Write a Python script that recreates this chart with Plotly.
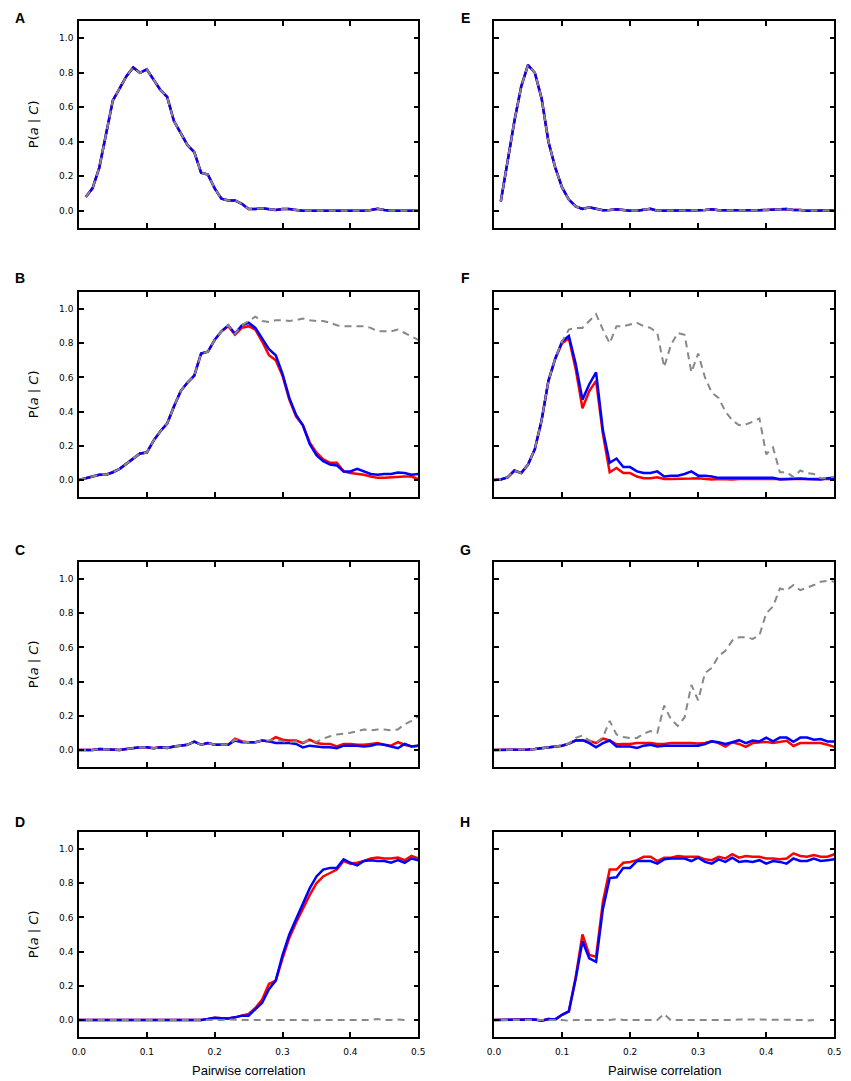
import plotly.graph_objects as go

# pairwise correlation grid shared by every panel
corr = [0.00, 0.01, 0.02, 0.03, 0.04, 0.05, 0.06, 0.07, 0.08, 0.09,
        0.10, 0.11, 0.12, 0.13, 0.14, 0.15, 0.16, 0.17, 0.18, 0.19,
        0.20, 0.21, 0.22, 0.23, 0.24, 0.25, 0.26, 0.27, 0.28, 0.29,
        0.30, 0.31, 0.32, 0.33, 0.34, 0.35, 0.36, 0.37, 0.38, 0.39,
        0.40, 0.41, 0.42, 0.43, 0.44, 0.45, 0.46, 0.47, 0.48, 0.49, 0.50]

x_ticks = [0.0, 0.1, 0.2, 0.3, 0.4, 0.5]
x_labels = ["0.0", "0.1", "0.2", "0.3", "0.4", "0.5"]
y_ticks = [0.0, 0.2, 0.4, 0.6, 0.8, 1.0]
y_labels = ["0.0", "0.2", "0.4", "0.6", "0.8", "1.0"]

# A: the three curves coincide
a_curve = [None, 0.08, 0.13, 0.25, 0.45, 0.64, 0.71, 0.78, 0.83, 0.80,
           0.82, 0.76, 0.70, 0.66, 0.52, 0.45, 0.38, 0.34, 0.22, 0.21,
           0.13, 0.07, 0.06, 0.06, 0.04, 0.01, 0.01, 0.015, 0.01, 0.005,
           0.01, 0.01, 0.005, 0.0, 0.0, 0.0, 0.0, 0.0, 0.0, 0.0,
           0.0, 0.0, 0.0, 0.005, 0.012, 0.005, 0.0, 0.0, 0.0, 0.0, 0.0]

b_red = [0.00, 0.01, 0.02, 0.03, 0.03, 0.045, 0.065, 0.095, 0.13, 0.155,
         0.16, 0.23, 0.285, 0.33, 0.43, 0.52, 0.57, 0.61, 0.74, 0.75,
         0.82, 0.87, 0.90, 0.85, 0.89, 0.90, 0.88, 0.81, 0.73, 0.70,
         0.61, 0.47, 0.37, 0.32, 0.22, 0.16, 0.12, 0.10, 0.10, 0.05,
         0.04, 0.035, 0.03, 0.02, 0.012, 0.012, 0.015, 0.02, 0.02, 0.02, 0.005]
b_blue = [0.00, 0.01, 0.02, 0.03, 0.03, 0.045, 0.065, 0.095, 0.13, 0.155,
          0.16, 0.23, 0.285, 0.33, 0.43, 0.52, 0.57, 0.61, 0.74, 0.75,
          0.82, 0.87, 0.905, 0.855, 0.905, 0.92, 0.89, 0.83, 0.765, 0.73,
          0.62, 0.48, 0.38, 0.32, 0.21, 0.145, 0.11, 0.09, 0.085, 0.05,
          0.05, 0.065, 0.05, 0.035, 0.03, 0.035, 0.035, 0.043, 0.04, 0.03, 0.035]
b_gray = [0.00, 0.01, 0.02, 0.03, 0.03, 0.045, 0.065, 0.095, 0.13, 0.155,
          0.16, 0.23, 0.285, 0.33, 0.43, 0.52, 0.57, 0.61, 0.74, 0.75,
          0.82, 0.87, 0.905, 0.855, 0.905, 0.93, 0.955, 0.93, 0.925, 0.935,
          0.935, 0.93, 0.935, 0.945, 0.935, 0.93, 0.93, 0.92, 0.905, 0.90,
          0.90, 0.90, 0.90, 0.89, 0.87, 0.87, 0.87, 0.88, 0.86, 0.84, 0.82]

c_red = [0.0, 0.0, 0.0, 0.005, 0.002, 0.0, 0.0, 0.005, 0.012, 0.016,
         0.016, 0.01, 0.015, 0.012, 0.02, 0.025, 0.03, 0.048, 0.03, 0.04,
         0.03, 0.03, 0.03, 0.065, 0.05, 0.045, 0.045, 0.055, 0.05, 0.075,
         0.06, 0.055, 0.055, 0.04, 0.06, 0.04, 0.035, 0.035, 0.02, 0.035,
         0.035, 0.03, 0.03, 0.035, 0.04, 0.03, 0.025, 0.045, 0.03, 0.02, 0.025]
c_blue = [0.0, 0.0, 0.0, 0.005, 0.002, 0.0, 0.0, 0.005, 0.012, 0.016,
          0.016, 0.01, 0.015, 0.012, 0.02, 0.025, 0.03, 0.048, 0.03, 0.04,
          0.03, 0.03, 0.03, 0.055, 0.045, 0.045, 0.045, 0.055, 0.05, 0.04,
          0.04, 0.04, 0.035, 0.015, 0.025, 0.02, 0.015, 0.015, 0.01, 0.025,
          0.025, 0.025, 0.02, 0.025, 0.035, 0.03, 0.02, 0.01, 0.035, 0.02, 0.025]
c_gray = [0.0, 0.0, 0.0, 0.005, 0.002, 0.0, 0.0, 0.005, 0.012, 0.016,
          0.016, 0.01, 0.015, 0.012, 0.02, 0.025, 0.03, 0.048, 0.03, 0.04,
          0.03, 0.03, 0.03, 0.06, 0.05, 0.045, 0.045, 0.055, 0.055, 0.06,
          0.05, 0.045, 0.05, 0.045, 0.055, 0.047, 0.066, 0.08, 0.09, 0.095,
          0.10, 0.11, 0.12, 0.115, 0.12, 0.12, 0.115, 0.12, 0.15, 0.17, 0.195]

d_red = [0.0, 0.0, 0.0, 0.0, 0.0, 0.0, 0.0, 0.0, 0.0, 0.0,
         0.0, 0.0, 0.002, 0.003, 0.002, 0.0, 0.003, 0.002, 0.0, 0.005,
         0.012, 0.01, 0.008, 0.015, 0.025, 0.035, 0.07, 0.12, 0.21, 0.23,
         0.36, 0.48, 0.57, 0.65, 0.73, 0.80, 0.84, 0.86, 0.88, 0.93,
         0.915, 0.92, 0.93, 0.945, 0.95, 0.945, 0.945, 0.95, 0.935, 0.96, 0.945]
d_blue = [0.0, 0.0, 0.0, 0.0, 0.0, 0.0, 0.0, 0.0, 0.0, 0.0,
          0.0, 0.0, 0.002, 0.003, 0.002, 0.0, 0.003, 0.002, 0.0, 0.005,
          0.012, 0.01, 0.008, 0.015, 0.025, 0.025, 0.06, 0.10, 0.18, 0.23,
          0.38, 0.50, 0.59, 0.68, 0.77, 0.84, 0.88, 0.89, 0.89, 0.94,
          0.92, 0.905, 0.93, 0.935, 0.93, 0.93, 0.92, 0.935, 0.92, 0.945, 0.935]
d_gray = [None, 0.0, 0.0, 0.0, 0.0, 0.0, 0.0, 0.0, 0.0, 0.0,
          0.0, 0.0, 0.0, 0.0, -0.003, 0.0, 0.0, 0.0, -0.003, 0.0,
          0.0, 0.0, 0.003, 0.0, 0.0, 0.0, 0.0, 0.0, 0.003, 0.0,
          0.0, 0.0, 0.0, 0.0, -0.003, 0.0, 0.0, 0.0, 0.0, 0.0,
          0.003, 0.003, 0.0, 0.0, 0.005, 0.0, 0.0, 0.003, 0.0, None, None]

# E: the three curves coincide
e_curve = [None, 0.054, 0.29, 0.52, 0.72, 0.845, 0.80, 0.65, 0.40, 0.25,
           0.135, 0.065, 0.025, 0.01, 0.02, 0.012, 0.003, 0.005, 0.008, 0.005,
           0.0, 0.0, 0.005, 0.012, 0.0, 0.0, 0.003, 0.003, 0.003, 0.003,
           0.003, 0.005, 0.008, 0.003, 0.003, 0.003, 0.003, 0.0, 0.003, 0.003,
           0.005, 0.005, 0.008, 0.01, 0.005, 0.005, 0.0, 0.0, 0.003, 0.003, 0.0]

f_red = [0.0, 0.003, 0.015, 0.055, 0.04, 0.09, 0.18, 0.35, 0.58, 0.71,
         0.80, 0.83, 0.65, 0.42, 0.52, 0.58, 0.27, 0.045, 0.07, 0.04,
         0.04, 0.02, 0.01, 0.01, 0.015, 0.005, 0.005, 0.005, 0.008, 0.008,
         0.01, 0.005, 0.003, 0.005, 0.003, 0.003, 0.005, 0.005, 0.003, 0.005,
         0.003, 0.005, 0.005, 0.003, 0.003, 0.005, 0.003, 0.005, 0.003, 0.003, 0.005]
f_blue = [0.0, 0.003, 0.015, 0.055, 0.04, 0.09, 0.18, 0.35, 0.58, 0.71,
          0.81, 0.843, 0.68, 0.47, 0.56, 0.63, 0.29, 0.10, 0.125, 0.075,
          0.075, 0.05, 0.04, 0.04, 0.05, 0.02, 0.025, 0.025, 0.035, 0.05,
          0.025, 0.025, 0.02, 0.012, 0.012, 0.012, 0.012, 0.012, 0.012, 0.012,
          0.012, 0.012, 0.003, 0.005, 0.005, 0.008, 0.005, 0.005, 0.003, 0.01, 0.012]
f_gray = [0.0, 0.003, 0.015, 0.055, 0.04, 0.09, 0.18, 0.35, 0.58, 0.71,
          0.81, 0.88, 0.89, 0.89, 0.93, 0.97, 0.88, 0.80, 0.90, 0.90,
          0.91, 0.92, 0.90, 0.89, 0.86, 0.66, 0.79, 0.86, 0.85, 0.63,
          0.74, 0.60, 0.51, 0.48, 0.40, 0.35, 0.32, 0.325, 0.34, 0.36,
          0.15, 0.19, 0.045, 0.045, 0.016, 0.055, 0.04, 0.035, 0.01, 0.01, 0.02]

g_red = [0.0, 0.0, 0.0, 0.0, 0.0, 0.003, 0.005, 0.01, 0.015, 0.016,
         0.025, 0.037, 0.057, 0.055, 0.053, 0.04, 0.066, 0.055, 0.033, 0.035,
         0.035, 0.04, 0.04, 0.04, 0.035, 0.035, 0.04, 0.04, 0.043, 0.04,
         0.037, 0.04, 0.05, 0.04, 0.02, 0.045, 0.035, 0.018, 0.04, 0.045,
         0.047, 0.04, 0.045, 0.053, 0.023, 0.04, 0.04, 0.04, 0.04, 0.03, 0.018]
g_blue = [0.0, 0.0, 0.0, 0.0, 0.0, 0.003, 0.005, 0.01, 0.015, 0.016,
          0.025, 0.037, 0.055, 0.057, 0.04, 0.015, 0.04, 0.055, 0.02, 0.02,
          0.02, 0.012, 0.025, 0.03, 0.02, 0.025, 0.027, 0.025, 0.025, 0.025,
          0.025, 0.035, 0.05, 0.045, 0.035, 0.045, 0.057, 0.04, 0.055, 0.05,
          0.072, 0.05, 0.072, 0.072, 0.047, 0.072, 0.072, 0.06, 0.064, 0.05, 0.05]
g_gray = [0.0, 0.0, 0.0, 0.0, 0.0, 0.003, 0.005, 0.01, 0.015, 0.016,
          0.025, 0.037, 0.07, 0.085, 0.055, 0.04, 0.075, 0.17, 0.09, 0.075,
          0.07, 0.07, 0.095, 0.11, 0.10, 0.26, 0.18, 0.14, 0.19, 0.38,
          0.29, 0.45, 0.48, 0.55, 0.58, 0.64, 0.66, 0.66, 0.65, 0.67,
          0.80, 0.84, 0.945, 0.935, 0.965, 0.935, 0.95, 0.965, 0.985, 0.99, 0.985]

h_red = [0.0, 0.0, 0.0, 0.0, 0.0, 0.003, 0.003, -0.005, 0.005, 0.003,
         0.03, 0.05, 0.25, 0.50, 0.38, 0.37, 0.69, 0.88, 0.88, 0.92,
         0.925, 0.935, 0.955, 0.955, 0.93, 0.95, 0.95, 0.96, 0.955, 0.955,
         0.955, 0.94, 0.935, 0.955, 0.945, 0.97, 0.95, 0.96, 0.955, 0.955,
         0.945, 0.945, 0.94, 0.945, 0.975, 0.96, 0.955, 0.965, 0.955, 0.955, 0.97]
h_blue = [0.0, 0.0, 0.0, 0.0, 0.0, 0.003, 0.003, -0.005, 0.005, 0.003,
          0.03, 0.05, 0.24, 0.46, 0.36, 0.34, 0.65, 0.83, 0.835, 0.89,
          0.89, 0.93, 0.93, 0.93, 0.915, 0.94, 0.945, 0.945, 0.945, 0.93,
          0.95, 0.925, 0.915, 0.94, 0.925, 0.95, 0.925, 0.93, 0.925, 0.935,
          0.915, 0.93, 0.925, 0.915, 0.945, 0.93, 0.93, 0.945, 0.93, 0.935, 0.94]
h_gray = [None, 0.0, 0.0, 0.0, 0.0, 0.0, 0.0, 0.0, 0.0, 0.003,
          0.0, -0.005, 0.0, 0.0, 0.0, 0.0, 0.0, 0.0, 0.005, 0.0,
          0.0, 0.0, 0.0, 0.0, 0.0, 0.035, -0.003, 0.0, 0.0, 0.0,
          0.0, 0.0, 0.0, -0.003, 0.0, 0.0, 0.003, 0.003, 0.0, 0.003,
          0.003, 0.0, 0.0, 0.0, 0.0, 0.0, -0.003, 0.0, None, None, None]

panels = [
    ("A", a_curve, a_curve, a_curve),
    ("B", b_red, b_blue, b_gray),
    ("C", c_red, c_blue, c_gray),
    ("D", d_red, d_blue, d_gray),
    ("E", e_curve, e_curve, e_curve),
    ("F", f_red, f_blue, f_gray),
    ("G", g_red, g_blue, g_gray),
    ("H", h_red, h_blue, h_gray),
]

W, H = 851, 1081
OFF = 8  # the page body adds an 8px margin around the figure
col_x = [(73, 418), (495, 841)]          # plot box left/right on the page
row_y = [(21, 228), (292, 497), (562, 767), (832, 1037)]  # top/bottom on the page
letter_y = [18, 278, 550, 822]
letter_x = [13, 466]


def px(p):
    return (p - OFF) / W


def py(p):
    return 1 - (p - OFF) / H


fig = go.Figure()
annotations = []
layout = {}

for i, (name, red, blue, gray) in enumerate(panels):
    col, row = divmod(i, 4)
    n = i + 1
    xa = "x" if n == 1 else f"x{n}"
    ya = "y" if n == 1 else f"y{n}"

    fig.add_trace(go.Scatter(x=corr, y=red, xaxis=xa, yaxis=ya, mode="lines",
                             line=dict(color="#ff0000", width=2.5)))
    fig.add_trace(go.Scatter(x=corr, y=blue, xaxis=xa, yaxis=ya, mode="lines",
                             line=dict(color="#0000ff", width=2.5)))
    fig.add_trace(go.Scatter(x=corr, y=gray, xaxis=xa, yaxis=ya, mode="lines",
                             line=dict(color="#888888", width=2, dash="7px,5px")))

    x0, x1 = col_x[col]
    y0, y1 = row_y[row]
    axis_style = dict(showline=True, linewidth=1.5, linecolor="black",
                      mirror="allticks", ticks="inside", ticklen=5,
                      tickwidth=1.5, tickcolor="black", showgrid=False,
                      zeroline=False,
                      tickfont=dict(family="DejaVu Sans", size=9, color="black"))
    layout["xaxis" if n == 1 else f"xaxis{n}"] = dict(
        axis_style, domain=[px(x0), px(x1)], range=[0, 0.5],
        tickvals=x_ticks, ticktext=x_labels, anchor=ya,
        ticklabelstandoff=5, showticklabels=(row == 3))
    layout["yaxis" if n == 1 else f"yaxis{n}"] = dict(
        axis_style, domain=[py(y1), py(y0)], range=[-0.1, 1.1],
        tickvals=y_ticks, ticktext=y_labels, anchor=xa,
        ticklabelstandoff=2, showticklabels=(col == 0))

    annotations.append(dict(text=f"<b>{name}</b>", xref="paper", yref="paper",
                            x=px(letter_x[col]), y=py(letter_y[row]),
                            showarrow=False, xanchor="center", yanchor="middle",
                            font=dict(family="Liberation Sans", size=14, color="black")))
    if col == 0:
        annotations.append(dict(text="P(<i>a</i> | <i>C</i>)", xref="paper", yref="paper",
                                x=px(27), y=py((y0 + y1) / 2), textangle=-90,
                                showarrow=False, xanchor="center", yanchor="middle",
                                font=dict(family="DejaVu Sans", size=13, color="black")))
    if row == 3:
        annotations.append(dict(text="Pairwise correlation", xref="paper", yref="paper",
                                x=px((x0 + x1) / 2), y=py(1070),
                                showarrow=False, xanchor="center", yanchor="middle",
                                font=dict(family="Liberation Sans", size=13, color="black")))

fig.update_layout(**layout)
fig.update_layout(width=W, height=H, margin=dict(l=0, r=0, t=0, b=0),
                  paper_bgcolor="white", plot_bgcolor="white",
                  showlegend=False, annotations=annotations)

fig.write_html("out.html")
